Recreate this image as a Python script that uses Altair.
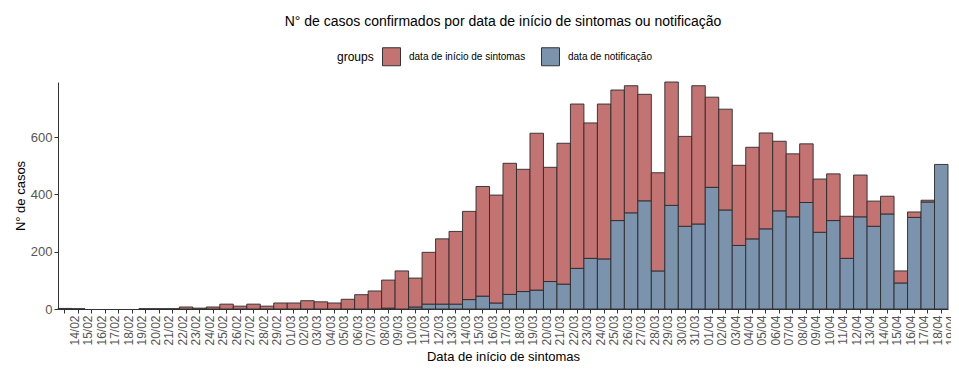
import altair as alt
import pandas as pd

datas = [
    "14/02", "15/02", "16/02", "17/02", "18/02", "19/02", "20/02", "21/02", "22/02", "23/02",
    "24/02", "25/02", "26/02", "27/02", "28/02", "29/02", "01/03", "02/03", "03/03", "04/03",
    "05/03", "06/03", "07/03", "08/03", "09/03", "10/03", "11/03", "12/03", "13/03", "14/03",
    "15/03", "16/03", "17/03", "18/03", "19/03", "20/03", "21/03", "22/03", "23/03", "24/03",
    "25/03", "26/03", "27/03", "28/03", "29/03", "30/03", "31/03", "01/04", "02/04", "03/04",
    "04/04", "05/04", "06/04", "07/04", "08/04", "09/04", "10/04", "11/04", "12/04", "13/04",
    "14/04", "15/04", "16/04", "17/04", "18/04", "19/04",
]

# cases by date of symptom onset (upper segment)
sintomas = [
    2, 1, 0, 0, 0, 0, 1, 1, 1, 7,
    3, 7, 17, 10, 17, 10, 21, 21, 29, 25,
    21, 34, 50, 63, 98, 133, 101, 181, 228, 254,
    308, 383, 377, 458, 427, 548, 399, 492, 574, 473,
    541, 456, 444, 372, 343, 431, 314, 483, 315, 352,
    280, 320, 335, 243, 220, 205, 186, 163, 147, 146,
    88, 62, 42, 19, 6, 0,
]

# cases by notification date (lower segment)
notificacao = [
    0, 0, 0, 0, 0, 0, 0, 0, 0, 0,
    0, 0, 0, 0, 0, 0, 0, 0, 0, 0,
    0, 0, 0, 0, 3, 0, 7, 17, 17, 17,
    33, 45, 21, 51, 61, 66, 96, 87, 142, 177,
    175, 309, 336, 378, 133, 362, 289, 297, 425, 346,
    222, 245, 280, 343, 322, 372, 268, 309, 177, 322,
    289, 332, 91, 320, 374, 505,
]

grupos = ["data de início de sintomas", "data de notificação"]
cores = ["#C47373", "#7B93AC"]

rows = []
for d, s, n in zip(datas, sintomas, notificacao):
    rows.append({"data": d, "grupo": grupos[1], "casos": n, "ord": 0})
    rows.append({"data": d, "grupo": grupos[0], "casos": s, "ord": 1})
df = pd.DataFrame(rows)

FONT = "Liberation Sans"

chart = (
    alt.Chart(df)
    .transform_filter(alt.datum.casos > 0)
    .mark_bar(stroke="#2a2a2a", strokeWidth=0.9)
    .encode(
        x=alt.X(
            "data:N",
            sort=datas,
            scale=alt.Scale(domain=datas, paddingInner=0, paddingOuter=0),
            axis=alt.Axis(
                title="Data de início de sintomas",
                labelAngle=270,
                labelFontSize=12,
                labelColor="#555555",
                labelFont=FONT,
                labelOffset=10,
                labelPadding=2,
                labelOverlap=False,
                tickSize=4,
                tickColor="#333333",
                domainColor="#333333",
                titleFont=FONT,
                titleFontSize=13,
                titleFontWeight="normal",
                titleColor="#000000",
                titlePadding=5,
            ),
        ),
        y=alt.Y(
            "casos:Q",
            stack="zero",
            scale=alt.Scale(domain=[0, 793], nice=False, zero=True),
            axis=alt.Axis(
                title="N° de casos",
                values=[0, 200, 400, 600],
                grid=False,
                labelFontSize=13,
                labelColor="#555555",
                labelFont=FONT,
                tickSize=4,
                tickColor="#333333",
                domainColor="#333333",
                titleFont=FONT,
                titleFontSize=13,
                titleFontWeight="normal",
                titleColor="#000000",
                titlePadding=3,
            ),
        ),
        color=alt.Color(
            "grupo:N",
            scale=alt.Scale(domain=grupos, range=cores),
            legend=alt.Legend(
                title="groups",
                orient="none",
                direction="horizontal",
                legendX=279,
                legendY=-35,
                titleOrient="left",
                titleFont=FONT,
                titleFontSize=12,
                titleFontWeight="normal",
                titleColor="#000000",
                titlePadding=8,
                labelFont=FONT,
                labelFontSize=10,
                labelColor="#000000",
                labelOffset=8,
                symbolType="square",
                symbolSize=324,
                symbolStrokeColor="#333333",
                symbolStrokeWidth=1,
                symbolOpacity=1,
                columnPadding=13,
            ),
        ),
        order=alt.Order("ord:Q", sort="ascending"),
    )
    .properties(
        width=890,
        height=227,
        title=alt.TitleParams(
            "N° de casos confirmados por data de início de sintomas ou notificação",
            font=FONT,
            fontSize=14,
            fontWeight="normal",
            color="#000000",
            anchor="middle",
            offset=18,
        ),
        background="white",
        autosize=alt.AutoSizeParams(type="none"),
        padding={"left": 50, "top": 74, "right": 3, "bottom": 60},
    )
    .configure_view(stroke="transparent", strokeWidth=0)
)

chart.save("out.html", embed_options={"renderer": "svg", "actions": False})
